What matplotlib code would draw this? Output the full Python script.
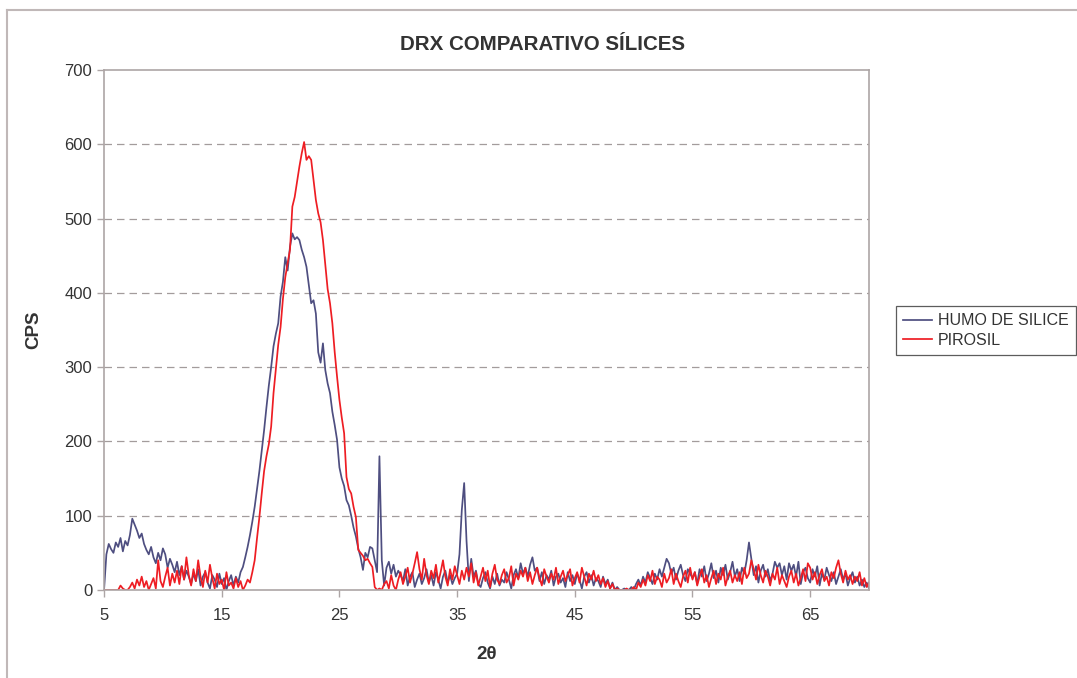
import matplotlib
matplotlib.use("Agg")
import matplotlib.pyplot as plt
from matplotlib.lines import Line2D
import numpy as np

plt.rcParams['font.family'] = ['Liberation Sans', 'DejaVu Sans']

# Scan grid, 2-theta in degrees (0.2 deg steps)
two_theta = np.round(np.arange(5.0, 70.01, 0.2), 1)

# Counts per second, one row per 2 degrees
humo_de_silice = [
    0, 48, 62, 55, 50, 64, 58, 70, 52, 66,
    60, 74, 96, 88, 80, 70, 76, 62, 54, 48,
    58, 44, 36, 50, 40, 56, 48, 30, 42, 34,
    24, 38, 20, 32, 14, 26, 18, 8, 22, 12,
    28, 6, 18, 24, 10, 2, 20, 14, 4, 22,
    8, 16, 0, 12, 20, 6, 18, 10, 24, 31,
    44, 58, 74, 92, 112, 136, 160, 188, 215, 246,
    275, 300, 328, 345, 359, 395, 415, 448, 430, 462,
    480, 472, 475, 471, 458, 448, 435, 410, 386, 390,
    372, 320, 306, 332, 296, 278, 265, 240, 222, 202,
    165, 150, 140, 121, 114, 100, 84, 72, 56, 44,
    27, 50, 44, 58, 56, 40, 24, 180, 40, 6,
    30, 38, 22, 34, 18, 26, 20, 12, 28, 6,
    18, 24, 4, 14, 22, 8, 16, 28, 10, 20,
    6, 24, 14, 2, 18, 26, 10, 20, 8, 16,
    22, 48, 108, 144, 66, 12, 42, 18, 26, 8,
    4, 16, 24, 10, 2, 18, 8, 22, 6, 14,
    10, 24, 14, 2, 20, 28, 16, 36, 22, 30,
    18, 34, 44, 26, 30, 12, 24, 8, 20, 14,
    26, 6, 18, 22, 10, 16, 4, 24, 12, 20,
    8, 22, 14, 2, 18, 24, 10, 20, 6, 16,
    12, 4, 18, 8, 14, 2, 10, 0, 4, 0,
    0, 2, 0, 0, 4, 0, 8, 14, 6, 18,
    10, 24, 16, 8, 22, 14, 28, 18, 30, 42,
    36, 22, 30, 14, 26, 34, 20, 12, 28, 22,
    16, 24, 8, 28, 18, 32, 12, 22, 36, 16,
    26, 10, 30, 20, 34, 14, 24, 38, 18, 28,
    12, 30, 22, 40, 64, 42, 20, 32, 10, 26,
    34, 18, 28, 12, 22, 38, 30, 36, 20, 32,
    14, 36, 26, 34, 18, 38, 8, 24, 30, 16,
    10, 28, 18, 32, 6, 22, 14, 30, 20, 12,
    24, 8, 18, 28, 14, 22, 6, 16, 24, 10,
    18, 6, 14, 4, 10, 2,
]

pirosil = [
    0, 0, 0, 0, 0, 0, 0, 6, 2, 0,
    0, 4, 10, 2, 14, 6, 18, 4, 12, 0,
    8, 16, 2, 40, 12, 4, 18, 30, 6, 22,
    10, 26, 8, 32, 14, 44, 20, 6, 28, 12,
    40, 18, 4, 26, 10, 34, 16, 2, 22, 8,
    14, 0, 24, 6, 10, 2, 16, 4, 12, 0,
    6, 14, 10, 24, 40, 70, 98, 130, 160, 180,
    196, 220, 265, 298, 330, 354, 392, 421, 440, 458,
    516, 529, 550, 570, 588, 603, 579, 584, 579, 552,
    525, 507, 495, 471, 438, 405, 386, 359, 320, 287,
    256, 232, 211, 152, 136, 130, 112, 98, 54, 50,
    46, 40, 42, 36, 31, 4, 0, 2, 0, 8,
    12, 2, 20, 6, 0, 14, 24, 8, 18, 30,
    10, 22, 36, 51, 28, 14, 42, 20, 8, 26,
    16, 34, 10, 24, 40, 18, 6, 28, 14, 32,
    20, 8, 26, 14, 30, 18, 36, 10, 24, 6,
    18, 30, 12, 26, 4, 22, 34, 14, 8, 20,
    28, 10, 16, 32, 6, 22, 14, 26, 18, 30,
    12, 24, 8, 20, 30, 16, 6, 28, 18, 10,
    22, 14, 30, 8, 18, 26, 12, 20, 28, 6,
    16, 24, 10, 30, 18, 6, 22, 14, 26, 12,
    20, 8, 16, 4, 12, 2, 8, 0, 2, 0,
    0, 0, 2, 0, 0, 4, 0, 10, 4, 14,
    6, 20, 12, 26, 8, 18, 14, 4, 22, 10,
    16, 28, 8, 22, 12, 4, 18, 26, 10, 30,
    14, 24, 6, 18, 28, 10, 20, 4, 16, 26,
    8, 22, 14, 30, 6, 18, 26, 10, 20, 12,
    24, 8, 30, 16, 22, 40, 28, 14, 34, 20,
    10, 26, 18, 6, 22, 14, 30, 8, 20, 12,
    4, 18, 26, 10, 22, 6, 16, 28, 12, 36,
    30, 14, 24, 8, 20, 28, 12, 18, 6, 24,
    16, 30, 40, 22, 10, 26, 14, 20, 8, 18,
    12, 24, 6, 16, 4, 10,
]

x_ticks = [5, 15, 25, 35, 45, 55, 65]
y_ticks = [0, 100, 200, 300, 400, 500, 600, 700]

edge = '#ADA5A5'
text_col = '#333333'

fig = plt.figure(figsize=(10.77, 6.78), dpi=100)
ax = fig.add_axes([0.0966, 0.1298, 0.7103, 0.767])

# chart area frame
fig.add_artist(Line2D([0.0065, 0.0065], [-0.05, 0.985], color='#C0B8B8', lw=1.5))
fig.add_artist(Line2D([0.0065, 1.05], [0.985, 0.985], color='#C0B8B8', lw=1.5))

ax.plot(two_theta, humo_de_silice, color='#4E4E80', lw=1.25, label='HUMO DE SILICE')
ax.plot(two_theta, pirosil, color='#EE1D23', lw=1.25, label='PIROSIL')

ax.set_xlim(5, 70)
ax.set_ylim(0, 700)
ax.set_xticks(x_ticks)
ax.set_yticks(y_ticks)
for v in y_ticks[1:-1]:
    ax.axhline(v, color='#A39C9C', lw=0.9, dashes=(6, 4), zorder=0)

for s in ax.spines.values():
    s.set_color(edge)
    s.set_linewidth(1.2)
ax.tick_params(colors=edge, labelcolor=text_col, labelsize=12, length=5, width=1.0)
ax.tick_params(axis='x', pad=8)

fig.text(0.504, 0.934, 'DRX COMPARATIVO SÍLICES', ha='center', va='center',
         fontsize=14.8, fontweight='bold', color=text_col)
fig.text(0.031, 0.513, 'CPS', ha='center', va='center', rotation=90,
         fontsize=13.5, fontweight='bold', color=text_col)
fig.text(0.452, 0.034, '2θ', ha='center', va='center',
         fontsize=13.5, fontweight='bold', color=text_col)

leg = fig.legend(loc='center left', bbox_to_anchor=(0.832, 0.5125), frameon=True,
                 fancybox=False, fontsize=11.5, handlelength=1.8, handletextpad=0.35,
                 borderpad=0.45, labelspacing=0.3, borderaxespad=0)
leg.get_frame().set_edgecolor('#333333')
leg.get_frame().set_linewidth(0.9)
for t in leg.get_texts():
    t.set_color(text_col)

fig.savefig('out.png', dpi=100)
